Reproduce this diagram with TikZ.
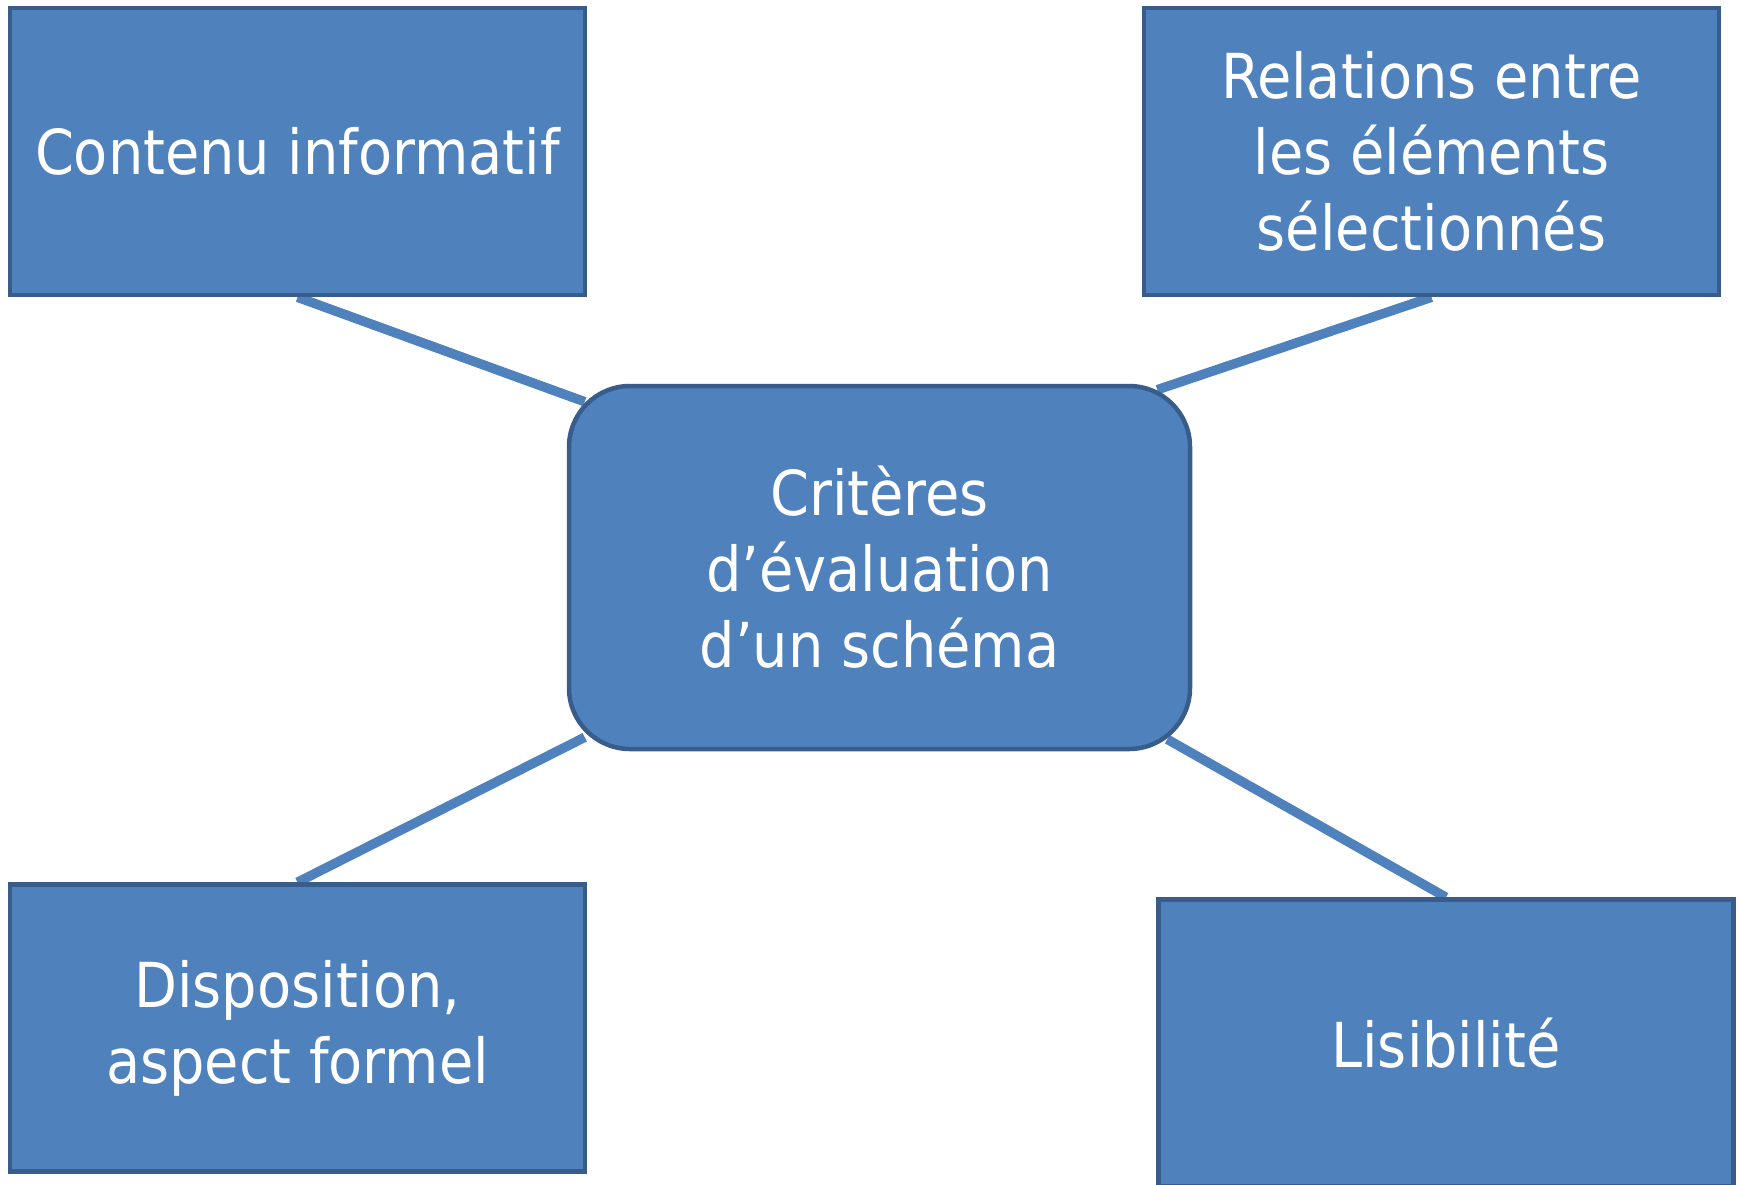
\documentclass[tikz,border=0pt]{standalone}
\definecolor{boxblue}{RGB}{79, 129, 189}
\definecolor{boxedge}{RGB}{56, 93, 138}
\usepackage{fontspec}
\setmainfont{DejaVu Sans Condensed}
\usepackage{tikz}
\usetikzlibrary{backgrounds,calc}
\tikzset{every picture/.style={line width=0.75pt}}

\begin{document}
\begin{tikzpicture}[x=1pt,y=1pt,yscale=-1,xscale=1,
  critbox/.style={draw=boxedge, fill=boxblue, line width=4.5pt, text=white,
    minimum width=575pt, minimum height=287pt, inner sep=0pt, align=center,
    font=\fontsize{62}{76}\selectfont},
  hubbox/.style={critbox, rounded corners=61pt, minimum width=621pt, minimum height=363pt},
  link/.style={draw=boxblue, line width=9.5pt}]
\useasboundingbox (0,0) rectangle (1740,1184);

%Central node
\node [hubbox] (hub) at (879.5,567.5) {Critères\\d’évaluation\\d’un schéma};
%Criteria
\node [critbox] (contenu) at (297.5,151.5) {Contenu informatif};
\node [critbox] (relations) at (1431.5,151.5) {Relations entre\\les éléments\\sélectionnés};
\node [critbox] (disposition) at (297.5,1028) {Disposition,\\aspect formel};
\node [critbox] (lisibilite) at (1446,1043) {Lisibilité};

%Connectors (ends on the rounded corners)
\coordinate (hubNW) at ($(hub.north west)+(18,18)$);
\coordinate (hubNE) at ($(hub.north east)+(-35,6)$);
\coordinate (hubSW) at ($(hub.south west)+(18,-14)$);
\coordinate (hubSE) at ($(hub.south east)+(-25,-12)$);
\begin{scope}[on background layer]
\draw [link] (contenu.south) -- (hubNW);
\draw [link] (relations.south) -- (hubNE);
\draw [link] (disposition.north) -- (hubSW);
\draw [link] (lisibilite.north) -- (hubSE);
\end{scope}

\end{tikzpicture}
\end{document}
